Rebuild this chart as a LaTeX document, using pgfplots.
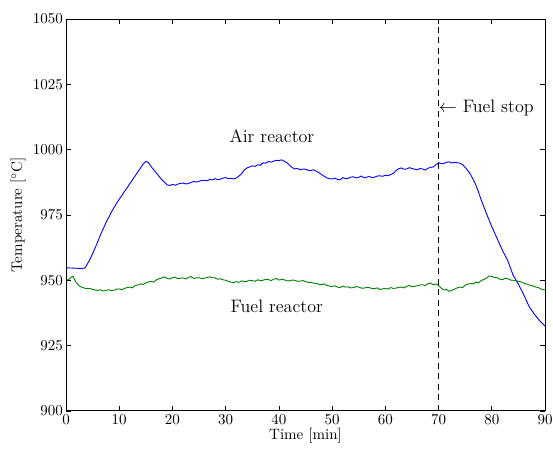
\documentclass[border=0pt]{standalone}
\usepackage{pgfplots}
\pgfplotsset{compat=1.18}
\definecolor{mblue}{RGB}{0,0,255}
\definecolor{mgreen}{RGB}{0,128,0}
\begin{document}
\begin{tikzpicture}
\begin{axis}[
  scale only axis,
  width=319pt, height=261pt,
  xmin=0, xmax=90, ymin=900, ymax=1050,
  xtick={0,10,...,90}, ytick={900,925,...,1050},
  /pgf/number format/1000 sep={},
  tick align=inside,
  tick pos=both,
  major tick length=3.5pt,
  axis line style={line width=0.6pt},
  every tick/.style={line width=0.5pt,black},
  xlabel={Time [min]}, ylabel={Temperature [$^\circ$C]},
  xlabel style={yshift=4pt},
  ylabel style={yshift=-2pt},
  yticklabel style={xshift=1.5pt},
  xticklabel style={yshift=1pt},
  clip=false,
]
\addplot[mblue, line width=0.6pt] coordinates {
(0,954.8)(1,954.7)(2,954.6)(3,954.5)(3.6,954.8)(4.5,958)(5.5,962.5)(6.5,967.5)(7.5,972)(8.5,976)(9.5,979.5)(10.5,982.5)(11.5,985.5)(12.5,988.5)(13.5,991.5)(14.5,994.5)(15,995.5)(15.5,995)(16,993.5)(17,991)(18,988.5)(19,986.5)(19.5,986.3)(20,986.7)(20.5,986.4)(21,986.8)(21.5,987.1)(22,987.2)(22.5,986.9)(23,987.0)(23.5,987.5)(24,987.8)(24.5,987.6)(25,987.9)(25.5,988.2)(26,988.3)(26.5,988.1)(27,988.6)(27.5,988.4)(28,988.9)(28.5,988.5)(29,988.7)(29.5,989.1)(30,989.3)(30.5,988.9)(31,989.0)(31.5,988.8)(32,989.2)(32.5,989.9)(33,990.8)(33.5,992.2)(34,993)(34.5,993.4)(35,993.8)(35.5,993.6)(36,994.2)(36.5,994.0)(37,995.0)(37.5,994.8)(38,995.5)(38.5,995.2)(39,995.6)(39.5,995.9)(40,995.8)(40.5,996.1)(41,995.6)(41.5,995.0)(42,994)(42.5,993.1)(43,992.6)(43.5,992.8)(44,992.3)(44.5,992.6)(45,992.5)(45.5,992.1)(46,992.0)(46.5,992.3)(47,991.8)(47.5,991.2)(48,990.5)(48.5,989.8)(49,989.2)(49.5,988.9)(50,988.8)(50.5,989.1)(51,988.6)(51.5,988.4)(52,989.3)(52.5,988.9)(53,989.0)(53.5,989.5)(54,989.6)(54.5,989.2)(55,989.4)(55.5,989.9)(56,989.2)(56.5,989.5)(57,989.7)(57.5,989.3)(58,989.5)(58.5,989.9)(59,990.0)(59.5,989.8)(60,990.2)(60.5,990.0)(61,990.5)(61.5,990.9)(62,992)(62.5,992.7)(63,993)(63.5,992.5)(64,992.6)(64.5,993.1)(65,992.8)(65.5,992.5)(66,992.3)(66.5,992.8)(67,992.6)(67.5,992.2)(68,992.9)(68.5,993.2)(69,993.4)(69.5,994.2)(70,995.0)(70.5,994.6)(71,994.7)(71.5,995.2)(72,995.3)(72.5,994.9)(73,995.1)(73.5,995.0)(74,994.8)(74.5,994.3)(75,993.2)(75.5,992.0)(76,990.5)(76.5,988.6)(77,986.5)(77.5,983.8)(78,980.8)(79,975.5)(80,970.5)(81,966)(82,961.5)(83,957.5)(84,952)(85,948.5)(86,944.5)(87,940)(88,937)(89,934.5)(90,932.5)
};
\addplot[mgreen, line width=0.6pt] coordinates {
(0,950.1)(0.5,950.3)(1,951.2)(1.3,951.6)(1.8,949.5)(2.5,947.8)(3,947.3)(3.5,947.0)(4,946.8)(4.5,946.9)(5,946.5)(5.5,946.3)(6,946.1)(6.5,946.4)(7,945.9)(7.5,946.1)(8,946.4)(8.5,946.0)(9,946.2)(9.5,946.6)(10,946.7)(10.5,946.4)(11,946.9)(11.5,947.2)(12,947.4)(12.5,947.1)(13,948.0)(13.5,948.2)(14,948.6)(14.5,948.4)(15,949.0)(15.5,949.4)(16,949.6)(16.5,949.3)(17,950.2)(17.5,950.6)(18,950.9)(18.5,951.3)(19,950.7)(19.5,950.5)(20,951.0)(20.5,951.2)(21,950.6)(21.5,950.8)(22,950.9)(22.5,950.5)(23,951.1)(23.5,951.4)(24,950.7)(24.5,950.9)(25,951.0)(25.5,950.6)(26,950.8)(26.5,951.1)(27,951.3)(27.5,951.0)(28,950.9)(28.5,950.4)(29,950.6)(29.5,950.2)(30,950.0)(30.5,949.6)(31,949.3)(31.5,949.1)(32,949.5)(32.5,949.2)(33,949.8)(33.5,949.5)(34,949.6)(34.5,950.0)(35,949.9)(35.5,949.6)(36,950.2)(36.5,949.9)(37,950.0)(37.5,950.4)(38,950.3)(38.5,949.9)(39,950.4)(39.5,950.7)(40,950.1)(40.5,950.3)(41,950.2)(41.5,949.8)(42,949.8)(42.5,950.1)(43,950.0)(43.5,949.6)(44,949.7)(44.5,949.9)(45,949.5)(45.5,949.2)(46,949.2)(46.5,948.9)(47,948.8)(47.5,948.5)(48,948.3)(48.5,948.6)(49,948.0)(49.5,947.8)(50,947.6)(50.5,947.9)(51,947.4)(51.5,947.2)(52,947.8)(52.5,947.4)(53,947.5)(53.5,947.1)(54,947.2)(54.5,947.6)(55,947.4)(55.5,947.0)(56,947.0)(56.5,947.3)(57,947.2)(57.5,946.8)(58,946.8)(58.5,947.1)(59,946.5)(59.5,946.7)(60,946.9)(60.5,946.6)(61,947.2)(61.5,946.9)(62,947.0)(62.5,947.3)(63,947.4)(63.5,947.1)(64,947.7)(64.5,948.0)(65,947.5)(65.5,947.7)(66,947.9)(66.5,948.2)(67,948.3)(67.5,948.0)(68,948.7)(68.5,948.9)(69,948.3)(69.5,948.6)(70,948.0)(70.5,947.0)(71,946.3)(71.5,946.5)(72,945.8)(72.5,946.2)(73,946.6)(73.5,947.1)(74,947.4)(74.5,947.2)(75,948.2)(75.5,948.5)(76,948.8)(76.5,948.6)(77,949.3)(77.5,949.0)(78,949.9)(78.5,950.3)(79,950.9)(79.5,951.6)(80,951.5)(80.5,951.1)(81,951.0)(81.5,950.4)(82,950.2)(82.5,950.8)(83,950.6)(83.5,950.1)(84,950.0)(84.5,949.8)(85,949.6)(85.5,949.4)(86,948.9)(86.5,948.6)(87,948.2)(87.5,948.0)(88,947.6)(88.5,947.3)(89,947.0)(89.5,946.5)(90,946.3)
};
\addplot[black, dashed, line width=0.6pt, dash pattern=on 4pt off 3pt] coordinates {(70,900) (70,1050)};
\node[font=\large] at (axis cs:38.7,1005) {Air reactor};
\node[font=\large] at (axis cs:39.6,940) {Fuel reactor};
\node[font=\large, anchor=west, inner sep=0pt] at (axis cs:70,1016) {$\leftarrow$ Fuel stop};
\coordinate (bbsw) at (rel axis cs:-0.1378,-0.0995);
\coordinate (bbne) at (rel axis cs:1.0167,1.0485);
\end{axis}
\pgfresetboundingbox
\path[use as bounding box] (bbsw) rectangle (bbne);
\end{tikzpicture}
\end{document}
